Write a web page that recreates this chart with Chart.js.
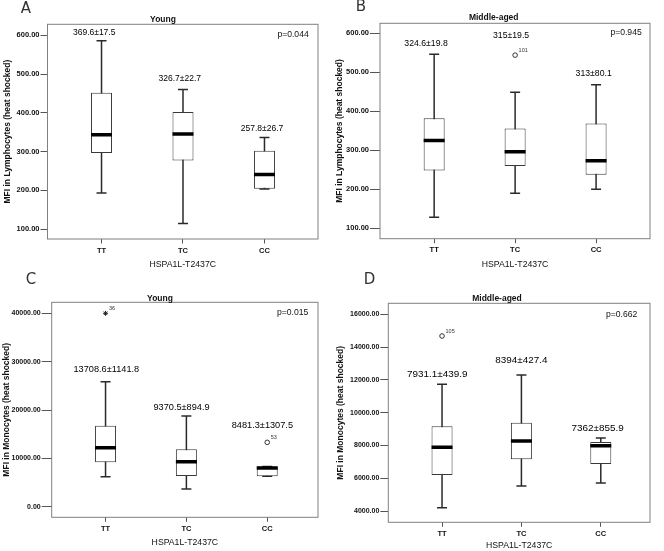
<!DOCTYPE html>
<html><head><meta charset="utf-8">
<script src="https://cdn.jsdelivr.net/npm/chart.js@4.4.1/dist/chart.umd.min.js"></script>
<style>
html,body{margin:0;padding:0;background:#fff;}
#wrap{position:relative;width:664px;height:551px;overflow:hidden;background:#fff;}
canvas{position:absolute;}
</style></head><body>
<div id="wrap">
<canvas id="cA" width="332" height="272" style="left:0px;top:0px"></canvas>
<canvas id="cB" width="332" height="272" style="left:332px;top:0px"></canvas>
<canvas id="cC" width="332" height="279" style="left:0px;top:272px"></canvas>
<canvas id="cD" width="332" height="279" style="left:332px;top:272px"></canvas>
</div>
<script>
// ---------- data ----------
const categories = ['TT', 'TC', 'CC'];
const xAxisTitle = 'HSPA1L-T2437C';
const lymphTicks = [100, 200, 300, 400, 500, 600];
const monoYoungTicks = [0, 10000, 20000, 30000, 40000];
const monoMidTicks = [4000, 6000, 8000, 10000, 12000, 14000, 16000];

// A: Young, lymphocytes
const aMin = [193, 114, 203];
const aQ1  = [296, 277, 204];
const aMed = [343, 345, 241];
const aQ3  = [452, 402, 302];
const aMax = [586, 460, 336];
const aStats = ['369.6±17.5', '326.7±22.7', '257.8±26.7'];
const aStatX = [-0.09, 0.96, 1.97];
const aStatY = [607, 488, 358];
const aOutX = [], aOutY = [], aOutLab = [], aOutKind = [];

// B: Middle-aged, lymphocytes
const bMin = [128, 190, 200];
const bQ1  = [248, 260, 237];
const bMed = [325, 296, 273];
const bQ3  = [382, 356, 369];
const bMax = [546, 449, 468];
const bStats = ['324.6±19.8', '315±19.5', '313±80.1'];
const bStatX = [-0.10, 0.95, 1.97];
const bStatY = [574, 595, 496];
const bOutX = [1], bOutY = [544], bOutLab = ['101'], bOutKind = ['circle'];

// C: Young, monocytes
const cMin = [6200, 3650, 6300];
const cQ1  = [9170, 6340, 6300];
const cMed = [12190, 9300, 7990];
const cQ3  = [16740, 11860, 8300];
const cMax = [25850, 18750, 8300];
const cStats = ['13708.6±1141.8', '9370.5±894.9', '8481.3±1307.5'];
const cStatX = [0.01, 0.94, 1.94];
const cStatY = [28480, 20480, 16830];
const cOutX = [0, 2], cOutY = [40000, 13310], cOutLab = ['36', '53'], cOutKind = ['star', 'circle'];

// D: Middle-aged, monocytes
const dMin = [4200, 5524, 5706];
const dQ1  = [6199, 7153, 6865];
const dMed = [7889, 8270, 7982];
const dQ3  = [9170, 9387, 8207];
const dMax = [11729, 12297, 8451];
const dStats = ['7931.1±439.9', '8394±427.4', '7362±855.9'];
const dStatX = [-0.06, 1.0, 1.96];
const dStatY = [12340, 13170, 9045];
const dOutX = [0], dOutY = [14676], dOutLab = ['105'], dOutKind = ['circle'];

// ---------- drawing ----------
const FONT = "'Liberation Sans', Arial, Helvetica, sans-serif";
const INK = '#111';

const decorPlugin = {
  id: 'decor',
  afterDraw(chart, args, o) {
    const ctx = chart.ctx, ca = chart.chartArea;
    const xs = chart.scales.x, ys = chart.scales.y;
    ctx.save();
    // frame
    ctx.strokeStyle = '#808080';
    ctx.lineWidth = 1;
    ctx.strokeRect(ca.left, ca.top, ca.right - ca.left, ca.bottom - ca.top);
    ctx.textBaseline = 'middle';
    // panel letter
    ctx.font = "15px 'DejaVu Sans', sans-serif";
    ctx.fillStyle = '#333';
    ctx.textAlign = 'center';
    ctx.fillText(o.letter, o.letterX, o.letterY);
    // title
    ctx.fillStyle = INK;
    ctx.font = 'bold 8.5px ' + FONT;
    ctx.fillText(o.title, o.titleX, o.titleY);
    // p value
    ctx.font = '8.6px ' + FONT;
    ctx.textAlign = 'right';
    ctx.fillText(o.p, ca.right - o.pRight, ca.top + o.pTop);
    // stats
    ctx.fillStyle = '#000';
    ctx.textAlign = 'center';
    ctx.font = o.statSize + 'px ' + FONT;
    o.stats.forEach((s, i) => {
      ctx.fillText(s, xs.getPixelForValue(o.statX[i]), ys.getPixelForValue(o.statY[i]));
    });
    // outlier case labels
    ctx.textAlign = 'left';
    ctx.font = '5.5px ' + FONT;
    ctx.fillStyle = '#333';
    o.outX.forEach((xv, i) => {
      ctx.fillText(o.outLab[i], xs.getPixelForValue(xv) + 3.5, ys.getPixelForValue(o.outY[i]) - 5);
    });
    ctx.restore();
  }
};

function makePanel(canvasId, d, g) {
  const pts = (arr) => arr.map((v, i) => ({x: i, y: v}));
  const rng = (lo, hi) => lo.map((v, i) => ({x: i, y: [v, hi[i]]}));
  const circ = [], star = [];
  d.outX.forEach((xv, i) => {
    (d.outKind[i] === 'star' ? star : circ).push({x: xv, y: d.outY[i]});
  });
  const datasets = [
    {type: 'bar', data: rng(d.min, d.max), backgroundColor: '#2a2a2a', borderWidth: 0,
     maxBarThickness: 1.5, grouped: false, inflateAmount: 0, order: 5},
    {type: 'scatter', data: pts(d.min).concat(pts(d.max)), pointStyle: 'line', pointRadius: 5,
     pointBorderColor: '#2a2a2a', pointBorderWidth: 1.5, pointHoverRadius: 5, order: 4},
    {type: 'bar', data: rng(d.q1, d.q3), backgroundColor: '#ffffff', borderColor: '#3a3a3a',
     borderWidth: 1, borderSkipped: false, maxBarThickness: 21, grouped: false, inflateAmount: 0, order: 3},
    {type: 'scatter', data: pts(d.med), pointStyle: 'line', pointRadius: 10.5,
     pointBorderColor: '#000', pointBorderWidth: 3.5, order: 2},
    {type: 'scatter', data: circ, pointStyle: 'circle', pointRadius: 2.3,
     pointBackgroundColor: '#fff', pointBorderColor: '#333', pointBorderWidth: 1, order: 1},
    {type: 'scatter', data: star, pointStyle: 'star', pointRadius: 2.5,
     pointBorderColor: '#222', pointBorderWidth: 1, order: 1}
  ];
  new Chart(document.getElementById(canvasId), {
    type: 'bar',
    data: {datasets},
    plugins: [decorPlugin],
    options: {
      responsive: false, animation: false, devicePixelRatio: 1, events: [],
      layout: {padding: {left: 0, top: g.padTop, right: g.padRight, bottom: 0}},
      plugins: {
        legend: {display: false}, tooltip: {enabled: false}, title: {display: false},
        decor: {
          letter: d.letter, letterX: g.letterX, letterY: g.letterY,
          title: d.title, titleX: g.titleX, titleY: g.titleY,
          p: d.p, pRight: g.pRight, pTop: g.pTop,
          stats: d.stats, statX: d.statX, statY: d.statY, statSize: g.statSize,
          outX: d.outX, outY: d.outY, outLab: d.outLab
        }
      },
      scales: {
        x: {
          type: 'linear', min: g.xmin, max: g.xmax, offset: false,
          afterBuildTicks: (s) => { s.ticks = categories.map((c, i) => ({value: i})); },
          afterFit: (s) => { s.height = g.xh; },
          grid: {display: true, drawOnChartArea: false, drawTicks: true, tickLength: 4.5,
                 tickColor: '#555', tickWidth: 1, offset: false},
          border: {display: false},
          ticks: {callback: (v) => categories[v] ?? '', color: INK, padding: 2.5,
                  maxRotation: 0, autoSkip: false, font: {family: FONT, size: 7.5, weight: 'bold'}},
          title: {display: true, text: xAxisTitle, color: INK,
                  font: {family: FONT, size: 8.7}, padding: {top: 0, bottom: g.xTitlePad}}
        },
        y: {
          type: 'linear', min: g.ymin, max: g.ymax,
          afterBuildTicks: (s) => { s.ticks = d.ticks.map((v) => ({value: v})); },
          afterFit: (s) => { s.width = g.yw; },
          grid: {display: true, drawOnChartArea: false, drawTicks: true, tickLength: g.yTick,
                 tickColor: '#555', tickWidth: 1},
          border: {display: false},
          ticks: {callback: (v) => Number(v).toFixed(2), color: INK, padding: 1,
                  autoSkip: false, font: {family: FONT, size: g.tickSize, weight: 'bold'}},
          title: {display: true, text: d.yTitle, color: INK,
                  font: {family: FONT, size: 8.5, weight: 'bold'}, padding: {top: g.yTitlePad, bottom: 0}}
        }
      }
    }
  });
}

makePanel('cA', {
  letter: 'A', title: 'Young', p: 'p=0.044', yTitle: 'MFI in Lymphocytes (heat shocked)',
  ticks: lymphTicks, min: aMin, q1: aQ1, med: aMed, q3: aQ3, max: aMax,
  stats: aStats, statX: aStatX, statY: aStatY,
  outX: aOutX, outY: aOutY, outLab: aOutLab, outKind: aOutKind
}, {padTop: 24.3, padRight: 6.7, yw: 47.5, xh: 33, xmin: -0.663, xmax: 2.657, ymin: 74.2, ymax: 628.4,
    yTick: 7, tickSize: 7.5, xTitlePad: 2.3, yTitlePad: 2.2, letterX: 26, letterY: 9, titleX: 163, titleY: 19.3,
    pRight: 9.3, pTop: 10, statSize: 8.5});

makePanel('cB', {
  letter: 'B', title: 'Middle-aged', p: 'p=0.945', yTitle: 'MFI in Lymphocytes (heat shocked)',
  ticks: lymphTicks, min: bMin, q1: bQ1, med: bMed, q3: bQ3, max: bMax,
  stats: bStats, statX: bStatX, statY: bStatY,
  outX: bOutX, outY: bOutY, outLab: bOutLab, outKind: bOutKind
}, {padTop: 23.3, padRight: 4.7, yw: 48, xh: 33.3, xmin: -0.669, xmax: 2.666, ymin: 73.3, ymax: 625.6,
    yTick: 10, tickSize: 7.5, xTitlePad: 2.6, yTitlePad: 2.2, letterX: 29, letterY: 7, titleX: 161.7, titleY: 17.3,
    pRight: 8.3, pTop: 9.7, statSize: 8.7});

makePanel('cC', {
  letter: 'C', title: 'Young', p: 'p=0.015', yTitle: 'MFI in Monocytes (heat shocked)',
  ticks: monoYoungTicks, min: cMin, q1: cQ1, med: cMed, q3: cQ3, max: cMax,
  stats: cStats, statX: cStatX, statY: cStatY,
  outX: cOutX, outY: cOutY, outLab: cOutLab, outKind: cOutKind
}, {padTop: 30.3, padRight: 10.3, yw: 51.7, xh: 33.7, xmin: -0.666, xmax: 2.628, ymin: -2192, ymax: 42275,
    yTick: 10, tickSize: 7, xTitlePad: 3, yTitlePad: 1.8, letterX: 31, letterY: 8.5, titleX: 160, titleY: 26.3,
    pRight: 9.7, pTop: 10, statSize: 9.2});

makePanel('cD', {
  letter: 'D', title: 'Middle-aged', p: 'p=0.662', yTitle: 'MFI in Monocytes (heat shocked)',
  ticks: monoMidTicks, min: dMin, q1: dQ1, med: dMed, q3: dQ3, max: dMax,
  stats: dStats, statX: dStatX, statY: dStatY,
  outX: dOutX, outY: dOutY, outLab: dOutLab, outKind: dOutKind
}, {padTop: 31.3, padRight: 2.3, yw: 56.3, xh: 28.7, xmin: -0.677, xmax: 2.62, ymin: 3311, ymax: 16671,
    yTick: 8, tickSize: 7, xTitlePad: 0, yTitlePad: 3.2, letterX: 37.5, letterY: 8.5, titleX: 165, titleY: 26.3,
    pRight: 12.7, pTop: 11, statSize: 9.9});
</script>
</body></html>
